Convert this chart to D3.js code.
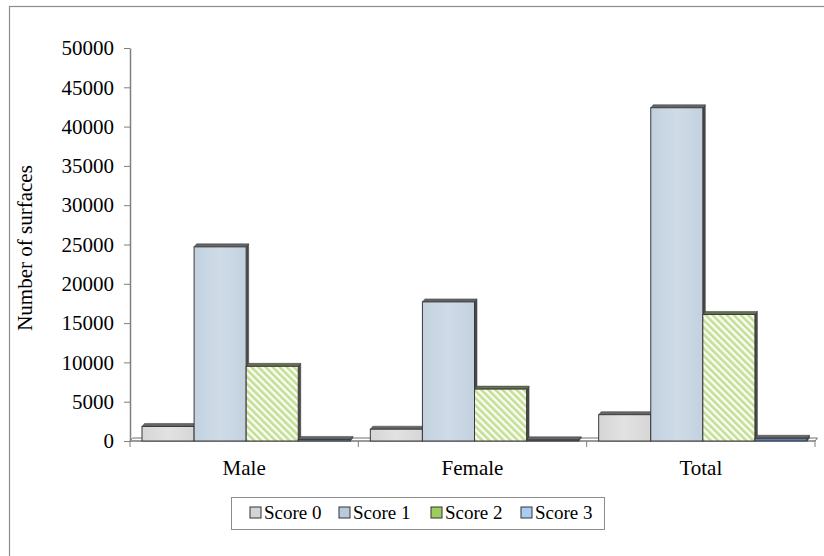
<!DOCTYPE html>
<html>
<head>
<meta charset="utf-8">
<script src="https://cdn.jsdelivr.net/npm/d3@7/dist/d3.min.js"></script>
<style>
  html, body { margin: 0; padding: 0; background: #fff; }
  svg { display: block; }
  text { font-family: "Liberation Serif", "Times New Roman", serif; fill: #000; }
</style>
</head>
<body>
<svg id="chart" width="824" height="556"></svg>
<script>
// Number of tooth surfaces per score, by group
const categories = ["Male", "Female", "Total"];
const seriesNames = ["Score 0", "Score 1", "Score 2", "Score 3"];
const score0 = [1850, 1500, 3350];
const score1 = [24700, 17700, 42400];
const score2 = [9500, 6600, 16100];
const score3 = [200, 150, 350];
const yTicks = [0, 5000, 10000, 15000, 20000, 25000, 30000, 35000, 40000, 45000, 50000];
const yTitle = "Number of surfaces";

const seriesValues = [score0, score1, score2, score3];

const svg = d3.select("#chart");
const W = 824, H = 556;
const plot = { left: 130, right: 815, top: 48, bottom: 441 };
const depth = { dx: 2.5, dy: -3 };
const serif = "Liberation Serif, Times New Roman, serif";

// outer frame (only the top and left edges fall inside the view)
svg.append("rect")
  .attr("x", 9.5).attr("y", 6.5)
  .attr("width", W + 20).attr("height", H + 20)
  .attr("fill", "#fff").attr("stroke", "#8c8c8c").attr("stroke-width", 1.2);

const defs = svg.append("defs");
const hatch = defs.append("pattern")
  .attr("id", "hatch")
  .attr("patternUnits", "userSpaceOnUse")
  .attr("width", 5).attr("height", 5)
  .attr("patternTransform", "rotate(-45)");
hatch.append("rect").attr("width", 5).attr("height", 5).attr("fill", "#fbfdf6");
hatch.append("rect").attr("x", 0).attr("width", 2.6).attr("height", 5).attr("fill", "#c3df93");

const grad1 = defs.append("linearGradient").attr("id", "g1")
  .attr("x1", 0).attr("x2", 1).attr("y1", 0).attr("y2", 0);
grad1.append("stop").attr("offset", 0).attr("stop-color", "#c3d1df");
grad1.append("stop").attr("offset", 0.5).attr("stop-color", "#cfdbe7");
grad1.append("stop").attr("offset", 1).attr("stop-color", "#c3d1df");

const grad0 = defs.append("linearGradient").attr("id", "g0")
  .attr("x1", 0).attr("x2", 1).attr("y1", 0).attr("y2", 0);
grad0.append("stop").attr("offset", 0).attr("stop-color", "#d6d6d6");
grad0.append("stop").attr("offset", 0.5).attr("stop-color", "#e2e2e2");
grad0.append("stop").attr("offset", 1).attr("stop-color", "#d6d6d6");

const fills = ["url(#g0)", "url(#g1)", "url(#hatch)", "#5a7db3"];
const legendFills = ["#d4d4d4", "#b9c8dc", "#9fcc5e", "#a9cdf2"];

const x0 = d3.scaleBand().domain(categories).range([plot.left, plot.right]);
const x1 = d3.scaleBand().domain(seriesNames).range([12, x0.bandwidth() - 8]);
const y = d3.scaleLinear().domain([0, 50000]).range([plot.bottom, plot.top]);

// y axis
const yAxis = svg.append("g")
  .attr("transform", `translate(${plot.left},0)`)
  .call(d3.axisLeft(y).tickValues(yTicks).tickFormat(d3.format("d"))
    .tickSize(6).tickPadding(10).tickSizeOuter(0));
yAxis.select(".domain").attr("stroke", "#7f7f7f").attr("stroke-width", 1.5);
yAxis.selectAll(".tick line").attr("stroke", "#7f7f7f");
yAxis.selectAll(".tick text")
  .attr("font-family", serif)
  .attr("font-size", 21).attr("fill", "#000");

// floor slab along the base
svg.append("path")
  .attr("d", `M${plot.left},${plot.bottom} L${plot.right},${plot.bottom} L${plot.right + depth.dx},${plot.bottom + depth.dy} L${plot.left + depth.dx},${plot.bottom + depth.dy} Z`)
  .attr("fill", "#fff").attr("stroke", "#6f6f6f").attr("stroke-width", 1);

// category boundary ticks under the floor
const bounds = categories.map(c => x0(c)).concat([plot.right]);
svg.append("g").selectAll("line").data(bounds).join("line")
  .attr("x1", d => d).attr("x2", d => d)
  .attr("y1", plot.bottom).attr("y2", plot.bottom + 6)
  .attr("stroke", "#7f7f7f");

// x axis line
svg.append("line")
  .attr("x1", plot.left).attr("x2", plot.right)
  .attr("y1", plot.bottom).attr("y2", plot.bottom)
  .attr("stroke", "#7f7f7f").attr("stroke-width", 1.2);

// bars with a shallow top and side face
const groups = svg.append("g").selectAll("g").data(categories).join("g")
  .attr("transform", c => `translate(${x0(c)},0)`);

groups.each(function (c, ci) {
  const g = d3.select(this);
  seriesNames.forEach((s, si) => {
    const v = seriesValues[si][ci];
    const xl = x1(s), w = x1.bandwidth();
    const yt = y(v), yb = y(0);
    // side face
    g.append("path")
      .attr("d", `M${xl + w},${yb} L${xl + w + depth.dx},${yb + depth.dy} L${xl + w + depth.dx},${yt + depth.dy} L${xl + w},${yt} Z`)
      .attr("fill", "#4a4a4a").attr("stroke", "#3a3a3a").attr("stroke-width", 0.5);
    // top face
    g.append("path")
      .attr("d", `M${xl},${yt} L${xl + depth.dx},${yt + depth.dy} L${xl + w + depth.dx},${yt + depth.dy} L${xl + w},${yt} Z`)
      .attr("fill", si === 2 ? "#66724f" : "#666").attr("stroke", "#3a3a3a").attr("stroke-width", 0.5);
    // front face
    g.append("rect")
      .attr("x", xl).attr("y", yt)
      .attr("width", w).attr("height", yb - yt)
      .attr("fill", fills[si])
      .attr("stroke", "#3a3a3a").attr("stroke-width", 1);
  });
});

// category labels
svg.append("g").selectAll("text").data(categories).join("text")
  .attr("x", c => x0(c) + x0.bandwidth() / 2)
  .attr("y", 475)
  .attr("text-anchor", "middle")
  .attr("font-size", 21)
  .text(c => c);

// y axis title
svg.append("text")
  .attr("transform", `translate(32,248) rotate(-90)`)
  .attr("text-anchor", "middle")
  .attr("font-size", 21)
  .text(yTitle);

// legend
const legend = svg.append("g");
legend.append("rect")
  .attr("x", 231.5).attr("y", 497.5).attr("width", 373).attr("height", 32)
  .attr("fill", "#fff").attr("stroke", "#8c8c8c");
const legendX = [250, 339, 431, 521];
const items = legend.selectAll("g").data(seriesNames).join("g")
  .attr("transform", (d, i) => `translate(${legendX[i]},507)`);
items.append("rect")
  .attr("width", 11).attr("height", 11)
  .attr("fill", (d, i) => legendFills[i])
  .attr("stroke", "#333").attr("stroke-width", 1);
items.append("text")
  .attr("x", 14).attr("y", 12)
  .attr("font-size", 19)
  .text(d => d);
</script>
</body>
</html>
